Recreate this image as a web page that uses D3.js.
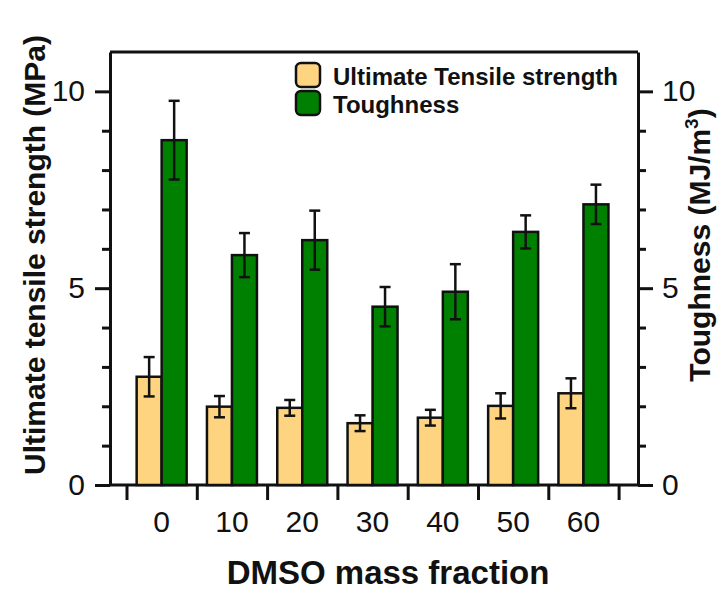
<!DOCTYPE html>
<html>
<head>
<meta charset="utf-8">
<script src="https://cdn.jsdelivr.net/npm/d3@7"></script>
<style>
  body { margin: 0; background: #fff; }
  svg { display: block; font-family: "Liberation Sans", Arial, sans-serif; }
  .axis path, .axis line { stroke: #111; stroke-width: 3; }
  .axis text { fill: #111; font-size: 30px; }
</style>
</head>
<body>
<div id="chart"></div>
<script>
// DMSO mass fraction groups
const categories = ["0", "10", "20", "30", "40", "50", "60"];
// Ultimate tensile strength (MPa)
const strength = [2.75, 1.99, 1.96, 1.57, 1.71, 2.01, 2.33];
const strengthErr = [0.5, 0.27, 0.2, 0.2, 0.2, 0.32, 0.38];
// Toughness (MJ/m3)
const toughness = [8.76, 5.84, 6.22, 4.53, 4.91, 6.43, 7.13];
const toughnessErr = [1.0, 0.56, 0.75, 0.5, 0.7, 0.42, 0.5];
const majorTicks = [0, 5, 10];
const minorTicks = [1, 2, 3, 4, 6, 7, 8, 9];

const width = 725, height = 593;
const plotLeft = 110, plotRight = 638, plotTop = 52, plotBottom = 485;
const barW = 25;

const svg = d3.select("#chart").append("svg")
    .attr("width", width)
    .attr("height", height);

// scales
const y = d3.scaleLinear().domain([0, 11]).range([plotBottom, plotTop]);
const yR = d3.scaleLinear().domain([0, 11]).range([plotBottom, plotTop]);
const x = d3.scaleBand().domain(categories).range([126.5, 618.6]).padding(0);
const xEdge = d3.scaleLinear().domain([0, categories.length]).range(x.range());

// frame top line
svg.append("line")
    .attr("x1", plotLeft).attr("x2", plotRight)
    .attr("y1", plotTop).attr("y2", plotTop)
    .attr("stroke", "#111").attr("stroke-width", 3);

// bottom axis line
svg.append("line")
    .attr("x1", plotLeft).attr("x2", plotRight)
    .attr("y1", plotBottom).attr("y2", plotBottom)
    .attr("stroke", "#111").attr("stroke-width", 3);

// group separator ticks
svg.append("g")
    .attr("class", "axis")
    .attr("transform", `translate(0,${plotBottom})`)
    .call(d3.axisBottom(xEdge).tickValues(d3.range(categories.length + 1)).tickSize(15).tickFormat(""))
    .call(g => g.select(".domain").remove());

// category labels
svg.append("g")
    .attr("class", "axis")
    .attr("transform", `translate(0,${plotBottom})`)
    .call(d3.axisBottom(x).tickSize(0).tickPadding(26))
    .call(g => g.select(".domain").remove());

// left axis
svg.append("g")
    .attr("class", "axis")
    .attr("transform", `translate(${plotLeft},0)`)
    .call(d3.axisLeft(y).tickValues(majorTicks).tickSize(15).tickPadding(10).tickSizeOuter(0));
svg.append("g")
    .attr("class", "axis")
    .attr("transform", `translate(${plotLeft},0)`)
    .call(d3.axisLeft(y).tickValues(minorTicks).tickSize(8).tickFormat(""))
    .call(g => g.select(".domain").remove());

// right axis
svg.append("g")
    .attr("class", "axis")
    .attr("transform", `translate(${plotRight},0)`)
    .call(d3.axisRight(yR).tickValues(majorTicks).tickSize(15).tickPadding(9).tickSizeOuter(0));
svg.append("g")
    .attr("class", "axis")
    .attr("transform", `translate(${plotRight},0)`)
    .call(d3.axisRight(yR).tickValues(minorTicks).tickSize(8).tickFormat(""))
    .call(g => g.select(".domain").remove());

// bars
const rows = categories.map((c, i) => ({
    c, s: strength[i], se: strengthErr[i], t: toughness[i], te: toughnessErr[i]
}));

const groups = svg.append("g").selectAll("g")
    .data(rows)
    .enter().append("g")
    .attr("transform", d => `translate(${x(d.c) + x.bandwidth() / 2},0)`);

groups.append("rect")
    .attr("x", -barW)
    .attr("y", d => y(d.s))
    .attr("width", barW)
    .attr("height", d => plotBottom - y(d.s))
    .attr("fill", "#fed480")
    .attr("stroke", "#111")
    .attr("stroke-width", 2.5);

groups.append("rect")
    .attr("x", 0)
    .attr("y", d => yR(d.t))
    .attr("width", barW)
    .attr("height", d => plotBottom - yR(d.t))
    .attr("fill", "#008000")
    .attr("stroke", "#111")
    .attr("stroke-width", 2.5);

// error bars
function errorBar(sel, cx, val, err, scale) {
    sel.append("line")
        .attr("x1", cx).attr("x2", cx)
        .attr("y1", d => scale(val(d) + err(d)))
        .attr("y2", d => scale(val(d) - err(d)));
    sel.append("line")
        .attr("x1", cx - 5.5).attr("x2", cx + 5.5)
        .attr("y1", d => scale(val(d) + err(d)))
        .attr("y2", d => scale(val(d) + err(d)));
    sel.append("line")
        .attr("x1", cx - 5.5).attr("x2", cx + 5.5)
        .attr("y1", d => scale(val(d) - err(d)))
        .attr("y2", d => scale(val(d) - err(d)));
}
const eb1 = groups.append("g").attr("stroke", "#111").attr("stroke-width", 2.5);
errorBar(eb1, -barW / 2, d => d.s, d => d.se, y);
const eb2 = groups.append("g").attr("stroke", "#111").attr("stroke-width", 2.5);
errorBar(eb2, barW / 2, d => d.t, d => d.te, yR);

// legend
const legendItems = [
    { label: "Ultimate Tensile strength", color: "#fed480" },
    { label: "Toughness", color: "#008000" }
];
const legend = svg.append("g")
    .selectAll("g")
    .data(legendItems)
    .enter().append("g")
    .attr("transform", (d, i) => `translate(296,${63 + i * 28})`);
legend.append("rect")
    .attr("width", 24).attr("height", 24)
    .attr("rx", 5)
    .attr("fill", d => d.color)
    .attr("stroke", "#111")
    .attr("stroke-width", 2.5);
legend.append("text")
    .attr("x", 37)
    .attr("y", 22)
    .attr("font-size", 24)
    .attr("font-weight", "bold")
    .attr("fill", "#111")
    .text(d => d.label);

// axis titles
svg.append("text")
    .attr("x", 388)
    .attr("y", 584)
    .attr("text-anchor", "middle")
    .attr("font-size", 33)
    .attr("font-weight", "bold")
    .attr("fill", "#111")
    .text("DMSO mass fraction");

svg.append("text")
    .attr("transform", "translate(45,255) rotate(-90)")
    .attr("text-anchor", "middle")
    .attr("font-size", 30)
    .attr("font-weight", "bold")
    .attr("fill", "#111")
    .text("Ultimate tensile strength (MPa)");

const rt = svg.append("text")
    .attr("transform", "translate(710,245) rotate(-90)")
    .attr("text-anchor", "middle")
    .attr("font-size", 30)
    .attr("font-weight", "bold")
    .attr("fill", "#111");
rt.append("tspan").text("Toughness (MJ/m");
rt.append("tspan").attr("font-size", 19).attr("dy", -12).text("3");
rt.append("tspan").attr("dy", 12).text(")");
</script>
</body>
</html>
